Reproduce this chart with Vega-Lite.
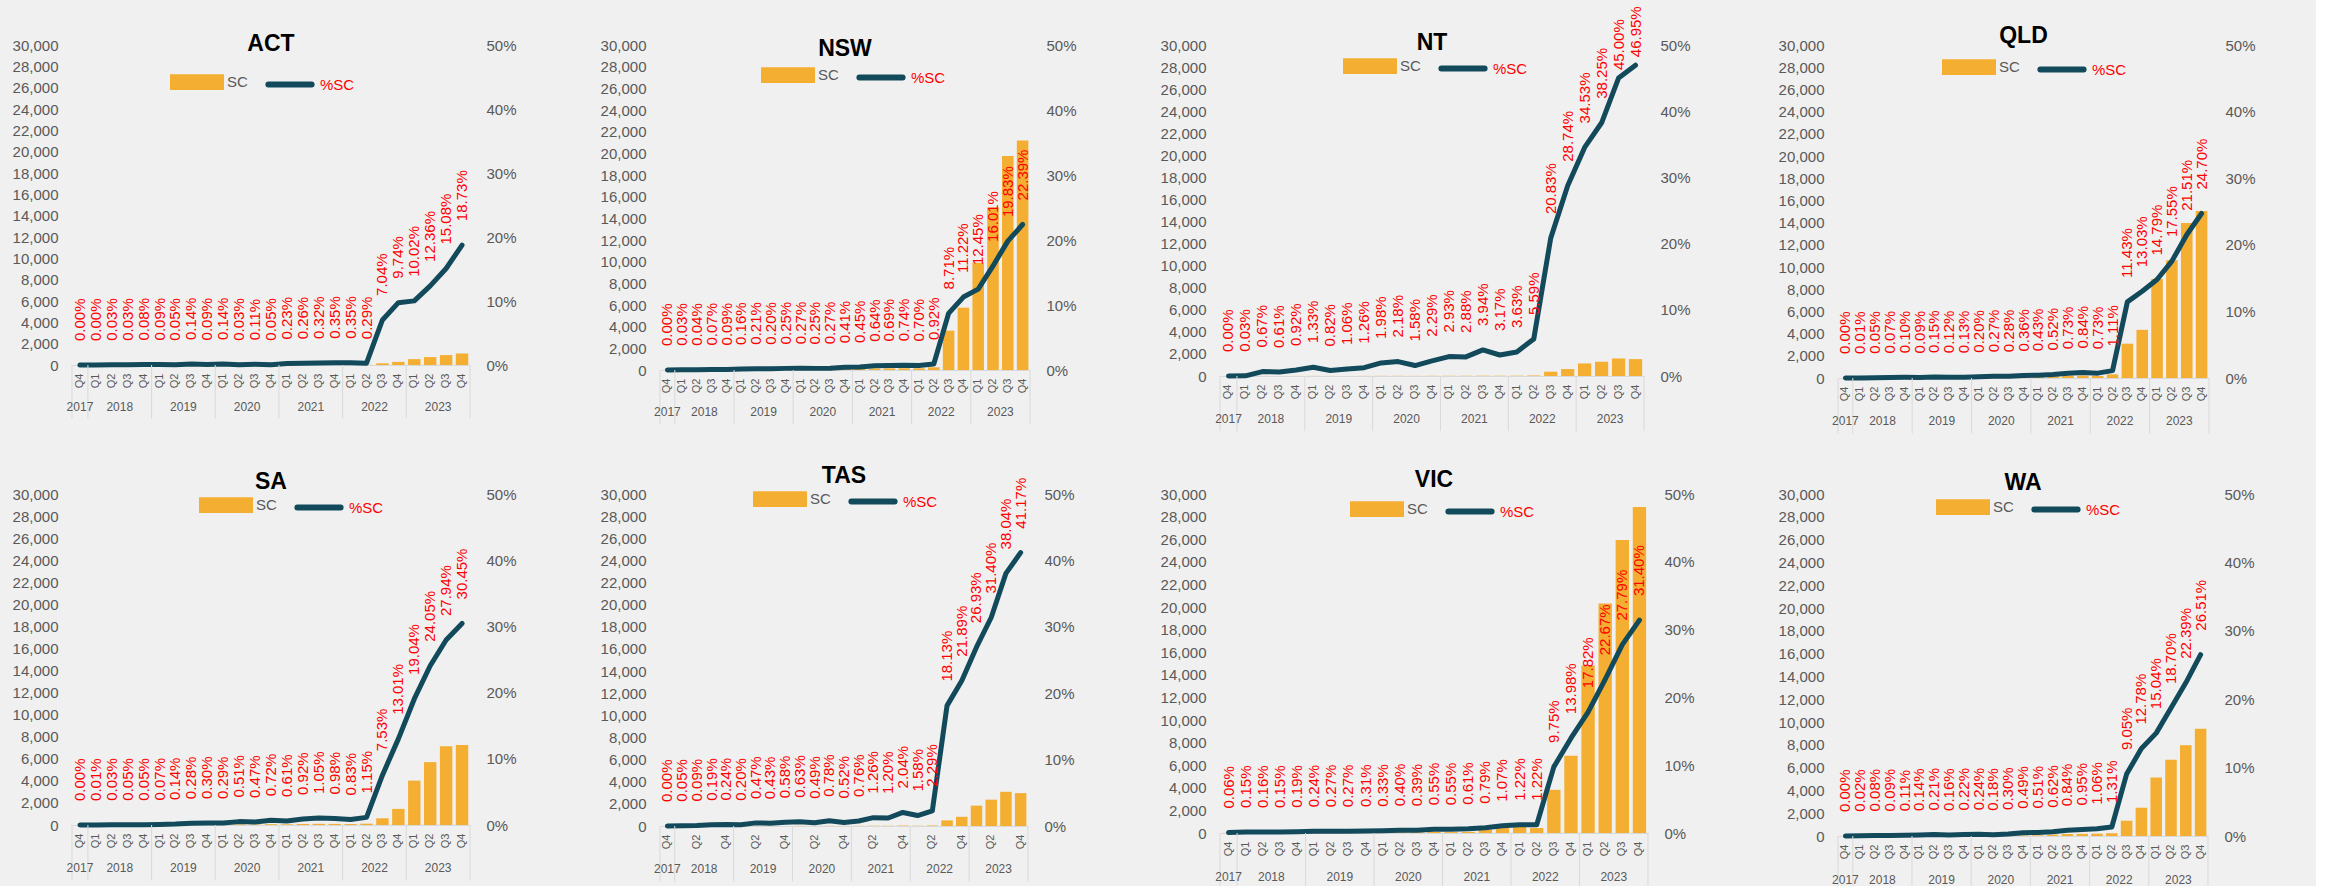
{
"$schema":"https://vega.github.io/schema/vega-lite/v6.json",
"background":"#F0F0F0",
"padding":{"left":12,"top":6,"right":60,"bottom":0},
"datasets":{
"yrs":[{"yr":"2017","st":"2017 Q4"},{"yr":"2018","st":"2018 Q1","mid":"2018 Q2"},{"yr":"2019","st":"2019 Q1","mid":"2019 Q2"},{"yr":"2020","st":"2020 Q1","mid":"2020 Q2"},{"yr":"2021","st":"2021 Q1","mid":"2021 Q2"},{"yr":"2022","st":"2022 Q1","mid":"2022 Q2"},{"yr":"2023","st":"2023 Q1","mid":"2023 Q2","en":"2023 Q4"}],
"d":[
{"s":"ACT","q":"2017 Q4","sc":0,"p":0},{"s":"ACT","q":"2018 Q1","sc":0,"p":0},{"s":"ACT","q":"2018 Q2","sc":2,"p":0.0003},{"s":"ACT","q":"2018 Q3","sc":2,"p":0.0003},{"s":"ACT","q":"2018 Q4","sc":4,"p":0.0008},{"s":"ACT","q":"2019 Q1","sc":5,"p":0.0009},{"s":"ACT","q":"2019 Q2","sc":3,"p":0.0005},{"s":"ACT","q":"2019 Q3","sc":7,"p":0.0014},{"s":"ACT","q":"2019 Q4","sc":5,"p":0.0009},{"s":"ACT","q":"2020 Q1","sc":7,"p":0.0014},{"s":"ACT","q":"2020 Q2","sc":2,"p":0.0003},{"s":"ACT","q":"2020 Q3","sc":6,"p":0.0011},{"s":"ACT","q":"2020 Q4","sc":3,"p":0.0005},{"s":"ACT","q":"2021 Q1","sc":12,"p":0.0023},{"s":"ACT","q":"2021 Q2","sc":14,"p":0.0026},{"s":"ACT","q":"2021 Q3","sc":17,"p":0.0032},{"s":"ACT","q":"2021 Q4","sc":19,"p":0.0035},{"s":"ACT","q":"2022 Q1","sc":19,"p":0.0035},{"s":"ACT","q":"2022 Q2","sc":16,"p":0.0029},{"s":"ACT","q":"2022 Q3","sc":160,"p":0.0704},{"s":"ACT","q":"2022 Q4","sc":290,"p":0.0974},{"s":"ACT","q":"2023 Q1","sc":550,"p":0.1002},{"s":"ACT","q":"2023 Q2","sc":740,"p":0.1236},{"s":"ACT","q":"2023 Q3","sc":930,"p":0.1508},{"s":"ACT","q":"2023 Q4","sc":1080,"p":0.1873},
{"s":"NSW","q":"2017 Q4","sc":0,"p":0},{"s":"NSW","q":"2018 Q1","sc":5,"p":0.0003},{"s":"NSW","q":"2018 Q2","sc":8,"p":0.0004},{"s":"NSW","q":"2018 Q3","sc":15,"p":0.0007},{"s":"NSW","q":"2018 Q4","sc":20,"p":0.0009},{"s":"NSW","q":"2019 Q1","sc":35,"p":0.0016},{"s":"NSW","q":"2019 Q2","sc":45,"p":0.0021},{"s":"NSW","q":"2019 Q3","sc":45,"p":0.002},{"s":"NSW","q":"2019 Q4","sc":55,"p":0.0025},{"s":"NSW","q":"2020 Q1","sc":60,"p":0.0027},{"s":"NSW","q":"2020 Q2","sc":55,"p":0.0025},{"s":"NSW","q":"2020 Q3","sc":60,"p":0.0027},{"s":"NSW","q":"2020 Q4","sc":90,"p":0.0041},{"s":"NSW","q":"2021 Q1","sc":100,"p":0.0045},{"s":"NSW","q":"2021 Q2","sc":140,"p":0.0064},{"s":"NSW","q":"2021 Q3","sc":150,"p":0.0069},{"s":"NSW","q":"2021 Q4","sc":160,"p":0.0074},{"s":"NSW","q":"2022 Q1","sc":155,"p":0.007},{"s":"NSW","q":"2022 Q2","sc":250,"p":0.0092},{"s":"NSW","q":"2022 Q3","sc":3630,"p":0.0871},{"s":"NSW","q":"2022 Q4","sc":5750,"p":0.1122},{"s":"NSW","q":"2023 Q1","sc":9900,"p":0.1245},{"s":"NSW","q":"2023 Q2","sc":15000,"p":0.1601},{"s":"NSW","q":"2023 Q3","sc":19750,"p":0.1983},{"s":"NSW","q":"2023 Q4","sc":21180,"p":0.2239},
{"s":"NT","q":"2017 Q4","sc":0,"p":0},{"s":"NT","q":"2018 Q1","sc":0,"p":0.0003},{"s":"NT","q":"2018 Q2","sc":5,"p":0.0067},{"s":"NT","q":"2018 Q3","sc":5,"p":0.0061},{"s":"NT","q":"2018 Q4","sc":8,"p":0.0092},{"s":"NT","q":"2019 Q1","sc":10,"p":0.0133},{"s":"NT","q":"2019 Q2","sc":7,"p":0.0082},{"s":"NT","q":"2019 Q3","sc":9,"p":0.0106},{"s":"NT","q":"2019 Q4","sc":10,"p":0.0126},{"s":"NT","q":"2020 Q1","sc":15,"p":0.0198},{"s":"NT","q":"2020 Q2","sc":17,"p":0.0218},{"s":"NT","q":"2020 Q3","sc":12,"p":0.0158},{"s":"NT","q":"2020 Q4","sc":18,"p":0.0229},{"s":"NT","q":"2021 Q1","sc":22,"p":0.0293},{"s":"NT","q":"2021 Q2","sc":22,"p":0.0288},{"s":"NT","q":"2021 Q3","sc":30,"p":0.0394},{"s":"NT","q":"2021 Q4","sc":25,"p":0.0317},{"s":"NT","q":"2022 Q1","sc":28,"p":0.0363},{"s":"NT","q":"2022 Q2","sc":45,"p":0.0559},{"s":"NT","q":"2022 Q3","sc":390,"p":0.2083},{"s":"NT","q":"2022 Q4","sc":630,"p":0.2874},{"s":"NT","q":"2023 Q1","sc":1140,"p":0.3453},{"s":"NT","q":"2023 Q2","sc":1290,"p":0.3825},{"s":"NT","q":"2023 Q3","sc":1590,"p":0.45},{"s":"NT","q":"2023 Q4","sc":1530,"p":0.4695},
{"s":"QLD","q":"2017 Q4","sc":0,"p":0},{"s":"QLD","q":"2018 Q1","sc":2,"p":0.0001},{"s":"QLD","q":"2018 Q2","sc":8,"p":0.0005},{"s":"QLD","q":"2018 Q3","sc":12,"p":0.0007},{"s":"QLD","q":"2018 Q4","sc":18,"p":0.001},{"s":"QLD","q":"2019 Q1","sc":16,"p":0.0009},{"s":"QLD","q":"2019 Q2","sc":27,"p":0.0015},{"s":"QLD","q":"2019 Q3","sc":22,"p":0.0012},{"s":"QLD","q":"2019 Q4","sc":24,"p":0.0013},{"s":"QLD","q":"2020 Q1","sc":37,"p":0.002},{"s":"QLD","q":"2020 Q2","sc":50,"p":0.0027},{"s":"QLD","q":"2020 Q3","sc":52,"p":0.0028},{"s":"QLD","q":"2020 Q4","sc":68,"p":0.0036},{"s":"QLD","q":"2021 Q1","sc":100,"p":0.0043},{"s":"QLD","q":"2021 Q2","sc":130,"p":0.0052},{"s":"QLD","q":"2021 Q3","sc":200,"p":0.0073},{"s":"QLD","q":"2021 Q4","sc":220,"p":0.0084},{"s":"QLD","q":"2022 Q1","sc":190,"p":0.0073},{"s":"QLD","q":"2022 Q2","sc":330,"p":0.0111},{"s":"QLD","q":"2022 Q3","sc":3090,"p":0.1143},{"s":"QLD","q":"2022 Q4","sc":4340,"p":0.1303},{"s":"QLD","q":"2023 Q1","sc":8920,"p":0.1479},{"s":"QLD","q":"2023 Q2","sc":10610,"p":0.1755},{"s":"QLD","q":"2023 Q3","sc":13970,"p":0.2151},{"s":"QLD","q":"2023 Q4","sc":15040,"p":0.247},
{"s":"SA","q":"2017 Q4","sc":0,"p":0},{"s":"SA","q":"2018 Q1","sc":1,"p":0.0001},{"s":"SA","q":"2018 Q2","sc":3,"p":0.0003},{"s":"SA","q":"2018 Q3","sc":5,"p":0.0005},{"s":"SA","q":"2018 Q4","sc":5,"p":0.0005},{"s":"SA","q":"2019 Q1","sc":7,"p":0.0007},{"s":"SA","q":"2019 Q2","sc":14,"p":0.0014},{"s":"SA","q":"2019 Q3","sc":28,"p":0.0028},{"s":"SA","q":"2019 Q4","sc":30,"p":0.003},{"s":"SA","q":"2020 Q1","sc":30,"p":0.0029},{"s":"SA","q":"2020 Q2","sc":52,"p":0.0051},{"s":"SA","q":"2020 Q3","sc":48,"p":0.0047},{"s":"SA","q":"2020 Q4","sc":75,"p":0.0072},{"s":"SA","q":"2021 Q1","sc":62,"p":0.0061},{"s":"SA","q":"2021 Q2","sc":95,"p":0.0092},{"s":"SA","q":"2021 Q3","sc":108,"p":0.0105},{"s":"SA","q":"2021 Q4","sc":100,"p":0.0098},{"s":"SA","q":"2022 Q1","sc":85,"p":0.0083},{"s":"SA","q":"2022 Q2","sc":120,"p":0.0115},{"s":"SA","q":"2022 Q3","sc":610,"p":0.0753},{"s":"SA","q":"2022 Q4","sc":1460,"p":0.1301},{"s":"SA","q":"2023 Q1","sc":4020,"p":0.1904},{"s":"SA","q":"2023 Q2","sc":5700,"p":0.2405},{"s":"SA","q":"2023 Q3","sc":7130,"p":0.2794},{"s":"SA","q":"2023 Q4","sc":7250,"p":0.3045},
{"s":"TAS","q":"2017 Q4","sc":0,"p":0},{"s":"TAS","q":"2018 Q1","sc":1,"p":0.0005},{"s":"TAS","q":"2018 Q2","sc":2,"p":0.0009},{"s":"TAS","q":"2018 Q3","sc":4,"p":0.0019},{"s":"TAS","q":"2018 Q4","sc":5,"p":0.0024},{"s":"TAS","q":"2019 Q1","sc":4,"p":0.002},{"s":"TAS","q":"2019 Q2","sc":9,"p":0.0047},{"s":"TAS","q":"2019 Q3","sc":8,"p":0.0043},{"s":"TAS","q":"2019 Q4","sc":11,"p":0.0058},{"s":"TAS","q":"2020 Q1","sc":12,"p":0.0063},{"s":"TAS","q":"2020 Q2","sc":10,"p":0.0049},{"s":"TAS","q":"2020 Q3","sc":15,"p":0.0078},{"s":"TAS","q":"2020 Q4","sc":10,"p":0.0052},{"s":"TAS","q":"2021 Q1","sc":15,"p":0.0076},{"s":"TAS","q":"2021 Q2","sc":25,"p":0.0126},{"s":"TAS","q":"2021 Q3","sc":24,"p":0.012},{"s":"TAS","q":"2021 Q4","sc":40,"p":0.0204},{"s":"TAS","q":"2022 Q1","sc":31,"p":0.0158},{"s":"TAS","q":"2022 Q2","sc":45,"p":0.0229},{"s":"TAS","q":"2022 Q3","sc":505,"p":0.1813},{"s":"TAS","q":"2022 Q4","sc":830,"p":0.2189},{"s":"TAS","q":"2023 Q1","sc":1840,"p":0.2693},{"s":"TAS","q":"2023 Q2","sc":2380,"p":0.314},{"s":"TAS","q":"2023 Q3","sc":3090,"p":0.3804},{"s":"TAS","q":"2023 Q4","sc":2970,"p":0.4117},
{"s":"VIC","q":"2017 Q4","sc":10,"p":0.0006},{"s":"VIC","q":"2018 Q1","sc":25,"p":0.0015},{"s":"VIC","q":"2018 Q2","sc":27,"p":0.0016},{"s":"VIC","q":"2018 Q3","sc":25,"p":0.0015},{"s":"VIC","q":"2018 Q4","sc":32,"p":0.0019},{"s":"VIC","q":"2019 Q1","sc":40,"p":0.0024},{"s":"VIC","q":"2019 Q2","sc":45,"p":0.0027},{"s":"VIC","q":"2019 Q3","sc":45,"p":0.0027},{"s":"VIC","q":"2019 Q4","sc":52,"p":0.0031},{"s":"VIC","q":"2020 Q1","sc":55,"p":0.0033},{"s":"VIC","q":"2020 Q2","sc":67,"p":0.004},{"s":"VIC","q":"2020 Q3","sc":65,"p":0.0039},{"s":"VIC","q":"2020 Q4","sc":92,"p":0.0055},{"s":"VIC","q":"2021 Q1","sc":80,"p":0.0055},{"s":"VIC","q":"2021 Q2","sc":100,"p":0.0061},{"s":"VIC","q":"2021 Q3","sc":290,"p":0.0079},{"s":"VIC","q":"2021 Q4","sc":440,"p":0.0107},{"s":"VIC","q":"2022 Q1","sc":530,"p":0.0122},{"s":"VIC","q":"2022 Q2","sc":440,"p":0.0122},{"s":"VIC","q":"2022 Q3","sc":3820,"p":0.0975},{"s":"VIC","q":"2022 Q4","sc":6840,"p":0.1398},{"s":"VIC","q":"2023 Q1","sc":14820,"p":0.1782},{"s":"VIC","q":"2023 Q2","sc":20310,"p":0.2267},{"s":"VIC","q":"2023 Q3","sc":25920,"p":0.2779},{"s":"VIC","q":"2023 Q4","sc":28850,"p":0.314},
{"s":"WA","q":"2017 Q4","sc":0,"p":0},{"s":"WA","q":"2018 Q1","sc":2,"p":0.0002},{"s":"WA","q":"2018 Q2","sc":8,"p":0.0008},{"s":"WA","q":"2018 Q3","sc":9,"p":0.0009},{"s":"WA","q":"2018 Q4","sc":11,"p":0.0011},{"s":"WA","q":"2019 Q1","sc":14,"p":0.0014},{"s":"WA","q":"2019 Q2","sc":21,"p":0.0021},{"s":"WA","q":"2019 Q3","sc":16,"p":0.0016},{"s":"WA","q":"2019 Q4","sc":22,"p":0.0022},{"s":"WA","q":"2020 Q1","sc":24,"p":0.0024},{"s":"WA","q":"2020 Q2","sc":18,"p":0.0018},{"s":"WA","q":"2020 Q3","sc":30,"p":0.003},{"s":"WA","q":"2020 Q4","sc":49,"p":0.0049},{"s":"WA","q":"2021 Q1","sc":60,"p":0.0051},{"s":"WA","q":"2021 Q2","sc":120,"p":0.0062},{"s":"WA","q":"2021 Q3","sc":170,"p":0.0084},{"s":"WA","q":"2021 Q4","sc":190,"p":0.0095},{"s":"WA","q":"2022 Q1","sc":200,"p":0.0106},{"s":"WA","q":"2022 Q2","sc":240,"p":0.0131},{"s":"WA","q":"2022 Q3","sc":1340,"p":0.0905},{"s":"WA","q":"2022 Q4","sc":2480,"p":0.1278},{"s":"WA","q":"2023 Q1","sc":5130,"p":0.1504},{"s":"WA","q":"2023 Q2","sc":6690,"p":0.187},{"s":"WA","q":"2023 Q3","sc":7970,"p":0.2239},{"s":"WA","q":"2023 Q4","sc":9400,"p":0.2651}
]},
"columns":4,
"spacing":{"row":116,"column":190},
"bounds":"flush",
"resolve":{"scale":{"color":"independent"},"legend":{"color":"independent"}},
"concat":[
{"width":398,"height":320,"title":{"text":"ACT","offset":-18},
"layer":[
{"data":{"name":"d"},"transform":[{"filter":"datum.s === 'ACT'"}],"mark":{"type":"bar","width":{"band":0.78}},
"encoding":{"x":{"field":"q","type":"ordinal","scale":{"paddingInner":0,"paddingOuter":0},"axis":{"labelAngle":-90,"labelExpr":"substring(datum.label, 5)","labelPadding":8,"labelFontSize":11,"title":null}},
"y":{"field":"sc","type":"quantitative","scale":{"domain":[0,30000]},"axis":{"orient":"left","values":[0,2000,4000,6000,8000,10000,12000,14000,16000,18000,20000,22000,24000,26000,28000,30000],"format":",.0f","labelFontSize":15,"labelPadding":14,"title":null}},
"color":{"datum":"SC","type":"nominal","scale":{"domain":["SC","%SC"],"range":["#F4AE31","#124A5C"]},"legend":{"orient":"none","legendX":98,"legendY":10,"direction":"horizontal","title":null,"symbolSize":2304,"symbolStrokeWidth":6,"labelOffset":3,"columnPadding":8,"labelFontSize":15,"labelFont":"Liberation Sans","encode":{"symbols":{"update":{"shape":{"signal":"datum.value === 'SC' ? 'M-1,-0.2H1V0.2H-1Z' : 'M-0.9,0H0.9'"},"fill":{"signal":"datum.value === 'SC' ? '#F4AE31' : 'transparent'"},"stroke":{"signal":"datum.value === 'SC' ? 'transparent' : '#124A5C'"},"strokeCap":{"value":"round"},"opacity":{"value":1}}},"labels":{"update":{"fill":{"signal":"datum.value === '%SC' ? '#FF0000' : '#595959'"}}}}}}}},
{"layer":[
{"data":{"name":"d"},"transform":[{"filter":"datum.s === 'ACT'"}],"mark":{"type":"line","strokeWidth":5,"strokeCap":"round","strokeJoin":"round"},
"encoding":{"x":{"field":"q","type":"ordinal"},"y":{"field":"p","type":"quantitative","scale":{"domain":[0,0.5]},"axis":{"orient":"right","values":[0,0.05,0.1,0.15,0.2,0.25,0.3,0.35,0.4,0.45,0.5],"format":".0%","labelFontSize":15,"labelPadding":16,"title":null}},"color":{"datum":"%SC","type":"nominal"}}},
{"data":{"name":"d"},"transform":[{"filter":"datum.s === 'ACT'"}],"mark":{"type":"text","angle":270,"align":"left","baseline":"middle","dx":24,"fontSize":15,"color":"#FF0000"},
"encoding":{"x":{"field":"q","type":"ordinal"},"y":{"field":"p","type":"quantitative"},"text":{"field":"p","type":"quantitative","format":".2%"}}}
]},
{"layer":[
{"data":{"name":"yrs"},"mark":{"type":"rule","color":"#D9D9D9","strokeWidth":1},"encoding":{"x":{"field":"st","type":"ordinal","bandPosition":0,"axis":{"title":null}},"y":{"datum":0,"type":"quantitative","scale":{"domain":[0,30000]},"axis":null},"y2":{"datum":-5000}}},
{"data":{"name":"yrs"},"transform":[{"filter":"datum.en"}],"mark":{"type":"rule","color":"#D9D9D9","strokeWidth":1},"encoding":{"x":{"field":"en","type":"ordinal","bandPosition":1,"axis":{"title":null}},"y":{"datum":0,"type":"quantitative","axis":null},"y2":{"datum":-5000}}},
{"data":{"name":"yrs"},"transform":[{"filter":"datum.yr !== '2017'"}],"mark":{"type":"text","fontSize":12,"color":"#595959"},"encoding":{"x":{"field":"mid","type":"ordinal","bandPosition":1,"axis":{"title":null}},"y":{"datum":-3900,"type":"quantitative","axis":null},"text":{"field":"yr"}}},
{"data":{"name":"yrs"},"transform":[{"filter":"datum.yr === '2017'"}],"mark":{"type":"text","fontSize":12,"color":"#595959"},"encoding":{"x":{"field":"st","type":"ordinal","bandPosition":0.5,"axis":{"title":null}},"y":{"datum":-3900,"type":"quantitative","axis":null},"text":{"field":"yr"}}}
]}
],
"resolve":{"scale":{"y":"independent"}}},

{"width":370,"height":325,"title":{"text":"NSW","offset":-23},
"layer":[
{"data":{"name":"d"},"transform":[{"filter":"datum.s === 'NSW'"}],"mark":{"type":"bar","width":{"band":0.78}},
"encoding":{"x":{"field":"q","type":"ordinal","scale":{"paddingInner":0,"paddingOuter":0},"axis":{"labelAngle":-90,"labelExpr":"substring(datum.label, 5)","labelPadding":8,"labelFontSize":11,"title":null}},
"y":{"field":"sc","type":"quantitative","scale":{"domain":[0,30000]},"axis":{"orient":"left","values":[0,2000,4000,6000,8000,10000,12000,14000,16000,18000,20000,22000,24000,26000,28000,30000],"format":",.0f","labelFontSize":15,"labelPadding":14,"title":null}},
"color":{"datum":"SC","type":"nominal","scale":{"domain":["SC","%SC"],"range":["#F4AE31","#124A5C"]},"legend":{"orient":"none","legendX":101,"legendY":3,"direction":"horizontal","title":null,"symbolSize":2304,"symbolStrokeWidth":6,"labelOffset":3,"columnPadding":8,"labelFontSize":15,"labelFont":"Liberation Sans","encode":{"symbols":{"update":{"shape":{"signal":"datum.value === 'SC' ? 'M-1,-0.2H1V0.2H-1Z' : 'M-0.9,0H0.9'"},"fill":{"signal":"datum.value === 'SC' ? '#F4AE31' : 'transparent'"},"stroke":{"signal":"datum.value === 'SC' ? 'transparent' : '#124A5C'"},"strokeCap":{"value":"round"},"opacity":{"value":1}}},"labels":{"update":{"fill":{"signal":"datum.value === '%SC' ? '#FF0000' : '#595959'"}}}}}}}},
{"layer":[
{"data":{"name":"d"},"transform":[{"filter":"datum.s === 'NSW'"}],"mark":{"type":"line","strokeWidth":5,"strokeCap":"round","strokeJoin":"round"},
"encoding":{"x":{"field":"q","type":"ordinal"},"y":{"field":"p","type":"quantitative","scale":{"domain":[0,0.5]},"axis":{"orient":"right","values":[0,0.05,0.1,0.15,0.2,0.25,0.3,0.35,0.4,0.45,0.5],"format":".0%","labelFontSize":15,"labelPadding":16,"title":null}},"color":{"datum":"%SC","type":"nominal"}}},
{"data":{"name":"d"},"transform":[{"filter":"datum.s === 'NSW'"}],"mark":{"type":"text","angle":270,"align":"left","baseline":"middle","dx":24,"fontSize":15,"color":"#FF0000"},
"encoding":{"x":{"field":"q","type":"ordinal"},"y":{"field":"p","type":"quantitative"},"text":{"field":"p","type":"quantitative","format":".2%"}}}
]},
{"layer":[
{"data":{"name":"yrs"},"mark":{"type":"rule","color":"#D9D9D9","strokeWidth":1},"encoding":{"x":{"field":"st","type":"ordinal","bandPosition":0,"axis":{"title":null}},"y":{"datum":0,"type":"quantitative","scale":{"domain":[0,30000]},"axis":null},"y2":{"datum":-5000}}},
{"data":{"name":"yrs"},"transform":[{"filter":"datum.en"}],"mark":{"type":"rule","color":"#D9D9D9","strokeWidth":1},"encoding":{"x":{"field":"en","type":"ordinal","bandPosition":1,"axis":{"title":null}},"y":{"datum":0,"type":"quantitative","axis":null},"y2":{"datum":-5000}}},
{"data":{"name":"yrs"},"transform":[{"filter":"datum.yr !== '2017'"}],"mark":{"type":"text","fontSize":12,"color":"#595959"},"encoding":{"x":{"field":"mid","type":"ordinal","bandPosition":1,"axis":{"title":null}},"y":{"datum":-3900,"type":"quantitative","axis":null},"text":{"field":"yr"}}},
{"data":{"name":"yrs"},"transform":[{"filter":"datum.yr === '2017'"}],"mark":{"type":"text","fontSize":12,"color":"#595959"},"encoding":{"x":{"field":"st","type":"ordinal","bandPosition":0.5,"axis":{"title":null}},"y":{"datum":-3900,"type":"quantitative","axis":null},"text":{"field":"yr"}}}
]}
],
"resolve":{"scale":{"y":"independent"}}},

{"width":424,"height":331,"title":{"text":"NT","offset":-43,"dy":6},
"layer":[
{"data":{"name":"d"},"transform":[{"filter":"datum.s === 'NT'"}],"mark":{"type":"bar","width":{"band":0.78}},
"encoding":{"x":{"field":"q","type":"ordinal","scale":{"paddingInner":0,"paddingOuter":0},"axis":{"labelAngle":-90,"labelExpr":"substring(datum.label, 5)","labelPadding":8,"labelFontSize":11,"title":null}},
"y":{"field":"sc","type":"quantitative","scale":{"domain":[0,30000]},"axis":{"orient":"left","values":[0,2000,4000,6000,8000,10000,12000,14000,16000,18000,20000,22000,24000,26000,28000,30000],"format":",.0f","labelFontSize":15,"labelPadding":14,"title":null}},
"color":{"datum":"SC","type":"nominal","scale":{"domain":["SC","%SC"],"range":["#F4AE31","#124A5C"]},"legend":{"orient":"none","legendX":123,"legendY":-6,"direction":"horizontal","title":null,"symbolSize":2304,"symbolStrokeWidth":6,"labelOffset":3,"columnPadding":8,"labelFontSize":15,"labelFont":"Liberation Sans","encode":{"symbols":{"update":{"shape":{"signal":"datum.value === 'SC' ? 'M-1,-0.2H1V0.2H-1Z' : 'M-0.9,0H0.9'"},"fill":{"signal":"datum.value === 'SC' ? '#F4AE31' : 'transparent'"},"stroke":{"signal":"datum.value === 'SC' ? 'transparent' : '#124A5C'"},"strokeCap":{"value":"round"},"opacity":{"value":1}}},"labels":{"update":{"fill":{"signal":"datum.value === '%SC' ? '#FF0000' : '#595959'"}}}}}}}},
{"layer":[
{"data":{"name":"d"},"transform":[{"filter":"datum.s === 'NT'"}],"mark":{"type":"line","strokeWidth":5,"strokeCap":"round","strokeJoin":"round"},
"encoding":{"x":{"field":"q","type":"ordinal"},"y":{"field":"p","type":"quantitative","scale":{"domain":[0,0.5]},"axis":{"orient":"right","values":[0,0.05,0.1,0.15,0.2,0.25,0.3,0.35,0.4,0.45,0.5],"format":".0%","labelFontSize":15,"labelPadding":16,"title":null}},"color":{"datum":"%SC","type":"nominal"}}},
{"data":{"name":"d"},"transform":[{"filter":"datum.s === 'NT' && datum.p <= 0.44"}],"mark":{"type":"text","angle":270,"align":"left","baseline":"middle","dx":24,"fontSize":15,"color":"#FF0000"},
"encoding":{"x":{"field":"q","type":"ordinal"},"y":{"field":"p","type":"quantitative"},"text":{"field":"p","type":"quantitative","format":".2%"}}},
{"data":{"name":"d"},"transform":[{"filter":"datum.s === 'NT' && datum.p > 0.44"}],"mark":{"type":"text","angle":270,"align":"left","baseline":"middle","dx":8,"fontSize":15,"color":"#FF0000"},
"encoding":{"x":{"field":"q","type":"ordinal"},"y":{"field":"p","type":"quantitative"},"text":{"field":"p","type":"quantitative","format":".2%"}}}
]},
{"layer":[
{"data":{"name":"yrs"},"mark":{"type":"rule","color":"#D9D9D9","strokeWidth":1},"encoding":{"x":{"field":"st","type":"ordinal","bandPosition":0,"axis":{"title":null}},"y":{"datum":0,"type":"quantitative","scale":{"domain":[0,30000]},"axis":null},"y2":{"datum":-5000}}},
{"data":{"name":"yrs"},"transform":[{"filter":"datum.en"}],"mark":{"type":"rule","color":"#D9D9D9","strokeWidth":1},"encoding":{"x":{"field":"en","type":"ordinal","bandPosition":1,"axis":{"title":null}},"y":{"datum":0,"type":"quantitative","axis":null},"y2":{"datum":-5000}}},
{"data":{"name":"yrs"},"transform":[{"filter":"datum.yr !== '2017'"}],"mark":{"type":"text","fontSize":12,"color":"#595959"},"encoding":{"x":{"field":"mid","type":"ordinal","bandPosition":1,"axis":{"title":null}},"y":{"datum":-3900,"type":"quantitative","axis":null},"text":{"field":"yr"}}},
{"data":{"name":"yrs"},"transform":[{"filter":"datum.yr === '2017'"}],"mark":{"type":"text","fontSize":12,"color":"#595959"},"encoding":{"x":{"field":"st","type":"ordinal","bandPosition":0.5,"axis":{"title":null}},"y":{"datum":-3900,"type":"quantitative","axis":null},"text":{"field":"yr"}}}
]}
],
"resolve":{"scale":{"y":"independent"}}},

{"width":371,"height":333,"title":{"text":"QLD","offset":-10},
"layer":[
{"data":{"name":"d"},"transform":[{"filter":"datum.s === 'QLD'"}],"mark":{"type":"bar","width":{"band":0.78}},
"encoding":{"x":{"field":"q","type":"ordinal","scale":{"paddingInner":0,"paddingOuter":0},"axis":{"labelAngle":-90,"labelExpr":"substring(datum.label, 5)","labelPadding":8,"labelFontSize":11,"title":null}},
"y":{"field":"sc","type":"quantitative","scale":{"domain":[0,30000]},"axis":{"orient":"left","values":[0,2000,4000,6000,8000,10000,12000,14000,16000,18000,20000,22000,24000,26000,28000,30000],"format":",.0f","labelFontSize":15,"labelPadding":14,"title":null}},
"color":{"datum":"SC","type":"nominal","scale":{"domain":["SC","%SC"],"range":["#F4AE31","#124A5C"]},"legend":{"orient":"none","legendX":104,"legendY":-5,"direction":"horizontal","title":null,"symbolSize":2304,"symbolStrokeWidth":6,"labelOffset":3,"columnPadding":8,"labelFontSize":15,"labelFont":"Liberation Sans","encode":{"symbols":{"update":{"shape":{"signal":"datum.value === 'SC' ? 'M-1,-0.2H1V0.2H-1Z' : 'M-0.9,0H0.9'"},"fill":{"signal":"datum.value === 'SC' ? '#F4AE31' : 'transparent'"},"stroke":{"signal":"datum.value === 'SC' ? 'transparent' : '#124A5C'"},"strokeCap":{"value":"round"},"opacity":{"value":1}}},"labels":{"update":{"fill":{"signal":"datum.value === '%SC' ? '#FF0000' : '#595959'"}}}}}}}},
{"layer":[
{"data":{"name":"d"},"transform":[{"filter":"datum.s === 'QLD'"}],"mark":{"type":"line","strokeWidth":5,"strokeCap":"round","strokeJoin":"round"},
"encoding":{"x":{"field":"q","type":"ordinal"},"y":{"field":"p","type":"quantitative","scale":{"domain":[0,0.5]},"axis":{"orient":"right","values":[0,0.05,0.1,0.15,0.2,0.25,0.3,0.35,0.4,0.45,0.5],"format":".0%","labelFontSize":15,"labelPadding":16,"title":null}},"color":{"datum":"%SC","type":"nominal"}}},
{"data":{"name":"d"},"transform":[{"filter":"datum.s === 'QLD'"}],"mark":{"type":"text","angle":270,"align":"left","baseline":"middle","dx":24,"fontSize":15,"color":"#FF0000"},
"encoding":{"x":{"field":"q","type":"ordinal"},"y":{"field":"p","type":"quantitative"},"text":{"field":"p","type":"quantitative","format":".2%"}}}
]},
{"layer":[
{"data":{"name":"yrs"},"mark":{"type":"rule","color":"#D9D9D9","strokeWidth":1},"encoding":{"x":{"field":"st","type":"ordinal","bandPosition":0,"axis":{"title":null}},"y":{"datum":0,"type":"quantitative","scale":{"domain":[0,30000]},"axis":null},"y2":{"datum":-5000}}},
{"data":{"name":"yrs"},"transform":[{"filter":"datum.en"}],"mark":{"type":"rule","color":"#D9D9D9","strokeWidth":1},"encoding":{"x":{"field":"en","type":"ordinal","bandPosition":1,"axis":{"title":null}},"y":{"datum":0,"type":"quantitative","axis":null},"y2":{"datum":-5000}}},
{"data":{"name":"yrs"},"transform":[{"filter":"datum.yr !== '2017'"}],"mark":{"type":"text","fontSize":12,"color":"#595959"},"encoding":{"x":{"field":"mid","type":"ordinal","bandPosition":1,"axis":{"title":null}},"y":{"datum":-3900,"type":"quantitative","axis":null},"text":{"field":"yr"}}},
{"data":{"name":"yrs"},"transform":[{"filter":"datum.yr === '2017'"}],"mark":{"type":"text","fontSize":12,"color":"#595959"},"encoding":{"x":{"field":"st","type":"ordinal","bandPosition":0.5,"axis":{"title":null}},"y":{"datum":-3900,"type":"quantitative","axis":null},"text":{"field":"yr"}}}
]}
],
"resolve":{"scale":{"y":"independent"}}},

{"width":398,"height":331,"title":{"text":"SA","offset":-16},
"layer":[
{"data":{"name":"d"},"transform":[{"filter":"datum.s === 'SA'"}],"mark":{"type":"bar","width":{"band":0.78}},
"encoding":{"x":{"field":"q","type":"ordinal","scale":{"paddingInner":0,"paddingOuter":0},"axis":{"labelAngle":-90,"labelExpr":"substring(datum.label, 5)","labelPadding":8,"labelFontSize":11,"title":null}},
"y":{"field":"sc","type":"quantitative","scale":{"domain":[0,30000]},"axis":{"orient":"left","values":[0,2000,4000,6000,8000,10000,12000,14000,16000,18000,20000,22000,24000,26000,28000,30000],"format":",.0f","labelFontSize":15,"labelPadding":14,"title":null}},
"color":{"datum":"SC","type":"nominal","scale":{"domain":["SC","%SC"],"range":["#F4AE31","#124A5C"]},"legend":{"orient":"none","legendX":127,"legendY":-16,"direction":"horizontal","title":null,"symbolSize":2304,"symbolStrokeWidth":6,"labelOffset":3,"columnPadding":8,"labelFontSize":15,"labelFont":"Liberation Sans","encode":{"symbols":{"update":{"shape":{"signal":"datum.value === 'SC' ? 'M-1,-0.2H1V0.2H-1Z' : 'M-0.9,0H0.9'"},"fill":{"signal":"datum.value === 'SC' ? '#F4AE31' : 'transparent'"},"stroke":{"signal":"datum.value === 'SC' ? 'transparent' : '#124A5C'"},"strokeCap":{"value":"round"},"opacity":{"value":1}}},"labels":{"update":{"fill":{"signal":"datum.value === '%SC' ? '#FF0000' : '#595959'"}}}}}}}},
{"layer":[
{"data":{"name":"d"},"transform":[{"filter":"datum.s === 'SA'"}],"mark":{"type":"line","strokeWidth":5,"strokeCap":"round","strokeJoin":"round"},
"encoding":{"x":{"field":"q","type":"ordinal"},"y":{"field":"p","type":"quantitative","scale":{"domain":[0,0.5]},"axis":{"orient":"right","values":[0,0.05,0.1,0.15,0.2,0.25,0.3,0.35,0.4,0.45,0.5],"format":".0%","labelFontSize":15,"labelPadding":16,"title":null}},"color":{"datum":"%SC","type":"nominal"}}},
{"data":{"name":"d"},"transform":[{"filter":"datum.s === 'SA'"}],"mark":{"type":"text","angle":270,"align":"left","baseline":"middle","dx":24,"fontSize":15,"color":"#FF0000"},
"encoding":{"x":{"field":"q","type":"ordinal"},"y":{"field":"p","type":"quantitative"},"text":{"field":"p","type":"quantitative","format":".2%"}}}
]},
{"layer":[
{"data":{"name":"yrs"},"mark":{"type":"rule","color":"#D9D9D9","strokeWidth":1},"encoding":{"x":{"field":"st","type":"ordinal","bandPosition":0,"axis":{"title":null}},"y":{"datum":0,"type":"quantitative","scale":{"domain":[0,30000]},"axis":null},"y2":{"datum":-5000}}},
{"data":{"name":"yrs"},"transform":[{"filter":"datum.en"}],"mark":{"type":"rule","color":"#D9D9D9","strokeWidth":1},"encoding":{"x":{"field":"en","type":"ordinal","bandPosition":1,"axis":{"title":null}},"y":{"datum":0,"type":"quantitative","axis":null},"y2":{"datum":-5000}}},
{"data":{"name":"yrs"},"transform":[{"filter":"datum.yr !== '2017'"}],"mark":{"type":"text","fontSize":12,"color":"#595959"},"encoding":{"x":{"field":"mid","type":"ordinal","bandPosition":1,"axis":{"title":null}},"y":{"datum":-3900,"type":"quantitative","axis":null},"text":{"field":"yr"}}},
{"data":{"name":"yrs"},"transform":[{"filter":"datum.yr === '2017'"}],"mark":{"type":"text","fontSize":12,"color":"#595959"},"encoding":{"x":{"field":"st","type":"ordinal","bandPosition":0.5,"axis":{"title":null}},"y":{"datum":-3900,"type":"quantitative","axis":null},"text":{"field":"yr"}}}
]}
],
"resolve":{"scale":{"y":"independent"}}},

{"width":368,"height":332,"title":{"text":"TAS","offset":-16},
"layer":[
{"data":{"name":"d"},"transform":[{"filter":"datum.s === 'TAS'"}],"mark":{"type":"bar","width":{"band":0.78}},
"encoding":{"x":{"field":"q","type":"ordinal","scale":{"paddingInner":0,"paddingOuter":0},"axis":{"labelAngle":-90,"labelExpr":"indexof(['Q1','Q3'], substring(datum.label, 5)) >= 0 ? '' : substring(datum.label, 5)","labelPadding":8,"labelFontSize":11,"title":null}},
"y":{"field":"sc","type":"quantitative","scale":{"domain":[0,30000]},"axis":{"orient":"left","values":[0,2000,4000,6000,8000,10000,12000,14000,16000,18000,20000,22000,24000,26000,28000,30000],"format":",.0f","labelFontSize":15,"labelPadding":14,"title":null}},
"color":{"datum":"SC","type":"nominal","scale":{"domain":["SC","%SC"],"range":["#F4AE31","#124A5C"]},"legend":{"orient":"none","legendX":93,"legendY":-22,"direction":"horizontal","title":null,"symbolSize":2304,"symbolStrokeWidth":6,"labelOffset":3,"columnPadding":8,"labelFontSize":15,"labelFont":"Liberation Sans","encode":{"symbols":{"update":{"shape":{"signal":"datum.value === 'SC' ? 'M-1,-0.2H1V0.2H-1Z' : 'M-0.9,0H0.9'"},"fill":{"signal":"datum.value === 'SC' ? '#F4AE31' : 'transparent'"},"stroke":{"signal":"datum.value === 'SC' ? 'transparent' : '#124A5C'"},"strokeCap":{"value":"round"},"opacity":{"value":1}}},"labels":{"update":{"fill":{"signal":"datum.value === '%SC' ? '#FF0000' : '#595959'"}}}}}}}},
{"layer":[
{"data":{"name":"d"},"transform":[{"filter":"datum.s === 'TAS'"}],"mark":{"type":"line","strokeWidth":5,"strokeCap":"round","strokeJoin":"round"},
"encoding":{"x":{"field":"q","type":"ordinal"},"y":{"field":"p","type":"quantitative","scale":{"domain":[0,0.5]},"axis":{"orient":"right","values":[0,0.05,0.1,0.15,0.2,0.25,0.3,0.35,0.4,0.45,0.5],"format":".0%","labelFontSize":15,"labelPadding":16,"title":null}},"color":{"datum":"%SC","type":"nominal"}}},
{"data":{"name":"d"},"transform":[{"filter":"datum.s === 'TAS'"}],"mark":{"type":"text","angle":270,"align":"left","baseline":"middle","dx":24,"fontSize":15,"color":"#FF0000"},
"encoding":{"x":{"field":"q","type":"ordinal"},"y":{"field":"p","type":"quantitative"},"text":{"field":"p","type":"quantitative","format":".2%"}}}
]},
{"layer":[
{"data":{"name":"yrs"},"mark":{"type":"rule","color":"#D9D9D9","strokeWidth":1},"encoding":{"x":{"field":"st","type":"ordinal","bandPosition":0,"axis":{"title":null}},"y":{"datum":0,"type":"quantitative","scale":{"domain":[0,30000]},"axis":null},"y2":{"datum":-5000}}},
{"data":{"name":"yrs"},"transform":[{"filter":"datum.en"}],"mark":{"type":"rule","color":"#D9D9D9","strokeWidth":1},"encoding":{"x":{"field":"en","type":"ordinal","bandPosition":1,"axis":{"title":null}},"y":{"datum":0,"type":"quantitative","axis":null},"y2":{"datum":-5000}}},
{"data":{"name":"yrs"},"transform":[{"filter":"datum.yr !== '2017'"}],"mark":{"type":"text","fontSize":12,"color":"#595959"},"encoding":{"x":{"field":"mid","type":"ordinal","bandPosition":1,"axis":{"title":null}},"y":{"datum":-3900,"type":"quantitative","axis":null},"text":{"field":"yr"}}},
{"data":{"name":"yrs"},"transform":[{"filter":"datum.yr === '2017'"}],"mark":{"type":"text","fontSize":12,"color":"#595959"},"encoding":{"x":{"field":"st","type":"ordinal","bandPosition":0.5,"axis":{"title":null}},"y":{"datum":-3900,"type":"quantitative","axis":null},"text":{"field":"yr"}}}
]}
],
"resolve":{"scale":{"y":"independent"}}},

{"width":428,"height":339,"title":{"text":"VIC","offset":-10},
"layer":[
{"data":{"name":"d"},"transform":[{"filter":"datum.s === 'VIC'"}],"mark":{"type":"bar","width":{"band":0.78}},
"encoding":{"x":{"field":"q","type":"ordinal","scale":{"paddingInner":0,"paddingOuter":0},"axis":{"labelAngle":-90,"labelExpr":"substring(datum.label, 5)","labelPadding":8,"labelFontSize":11,"title":null}},
"y":{"field":"sc","type":"quantitative","scale":{"domain":[0,30000]},"axis":{"orient":"left","values":[0,2000,4000,6000,8000,10000,12000,14000,16000,18000,20000,22000,24000,26000,28000,30000],"format":",.0f","labelFontSize":15,"labelPadding":14,"title":null}},
"color":{"datum":"SC","type":"nominal","scale":{"domain":["SC","%SC"],"range":["#F4AE31","#124A5C"]},"legend":{"orient":"none","legendX":130,"legendY":-12,"direction":"horizontal","title":null,"symbolSize":2304,"symbolStrokeWidth":6,"labelOffset":3,"columnPadding":8,"labelFontSize":15,"labelFont":"Liberation Sans","encode":{"symbols":{"update":{"shape":{"signal":"datum.value === 'SC' ? 'M-1,-0.2H1V0.2H-1Z' : 'M-0.9,0H0.9'"},"fill":{"signal":"datum.value === 'SC' ? '#F4AE31' : 'transparent'"},"stroke":{"signal":"datum.value === 'SC' ? 'transparent' : '#124A5C'"},"strokeCap":{"value":"round"},"opacity":{"value":1}}},"labels":{"update":{"fill":{"signal":"datum.value === '%SC' ? '#FF0000' : '#595959'"}}}}}}}},
{"layer":[
{"data":{"name":"d"},"transform":[{"filter":"datum.s === 'VIC'"}],"mark":{"type":"line","strokeWidth":5,"strokeCap":"round","strokeJoin":"round"},
"encoding":{"x":{"field":"q","type":"ordinal"},"y":{"field":"p","type":"quantitative","scale":{"domain":[0,0.5]},"axis":{"orient":"right","values":[0,0.05,0.1,0.15,0.2,0.25,0.3,0.35,0.4,0.45,0.5],"format":".0%","labelFontSize":15,"labelPadding":16,"title":null}},"color":{"datum":"%SC","type":"nominal"}}},
{"data":{"name":"d"},"transform":[{"filter":"datum.s === 'VIC'"}],"mark":{"type":"text","angle":270,"align":"left","baseline":"middle","dx":24,"fontSize":15,"color":"#FF0000"},
"encoding":{"x":{"field":"q","type":"ordinal"},"y":{"field":"p","type":"quantitative"},"text":{"field":"p","type":"quantitative","format":".2%"}}}
]},
{"layer":[
{"data":{"name":"yrs"},"mark":{"type":"rule","color":"#D9D9D9","strokeWidth":1},"encoding":{"x":{"field":"st","type":"ordinal","bandPosition":0,"axis":{"title":null}},"y":{"datum":0,"type":"quantitative","scale":{"domain":[0,30000]},"axis":null},"y2":{"datum":-5000}}},
{"data":{"name":"yrs"},"transform":[{"filter":"datum.en"}],"mark":{"type":"rule","color":"#D9D9D9","strokeWidth":1},"encoding":{"x":{"field":"en","type":"ordinal","bandPosition":1,"axis":{"title":null}},"y":{"datum":0,"type":"quantitative","axis":null},"y2":{"datum":-5000}}},
{"data":{"name":"yrs"},"transform":[{"filter":"datum.yr !== '2017'"}],"mark":{"type":"text","fontSize":12,"color":"#595959"},"encoding":{"x":{"field":"mid","type":"ordinal","bandPosition":1,"axis":{"title":null}},"y":{"datum":-3900,"type":"quantitative","axis":null},"text":{"field":"yr"}}},
{"data":{"name":"yrs"},"transform":[{"filter":"datum.yr === '2017'"}],"mark":{"type":"text","fontSize":12,"color":"#595959"},"encoding":{"x":{"field":"st","type":"ordinal","bandPosition":0.5,"axis":{"title":null}},"y":{"datum":-3900,"type":"quantitative","axis":null},"text":{"field":"yr"}}}
]}
],
"resolve":{"scale":{"y":"independent"}}},

{"width":370,"height":342,"title":{"text":"WA","offset":-15},
"layer":[
{"data":{"name":"d"},"transform":[{"filter":"datum.s === 'WA'"}],"mark":{"type":"bar","width":{"band":0.78}},
"encoding":{"x":{"field":"q","type":"ordinal","scale":{"paddingInner":0,"paddingOuter":0},"axis":{"labelAngle":-90,"labelExpr":"substring(datum.label, 5)","labelPadding":8,"labelFontSize":11,"title":null}},
"y":{"field":"sc","type":"quantitative","scale":{"domain":[0,30000]},"axis":{"orient":"left","values":[0,2000,4000,6000,8000,10000,12000,14000,16000,18000,20000,22000,24000,26000,28000,30000],"format":",.0f","labelFontSize":15,"labelPadding":14,"title":null}},
"color":{"datum":"SC","type":"nominal","scale":{"domain":["SC","%SC"],"range":["#F4AE31","#124A5C"]},"legend":{"orient":"none","legendX":98,"legendY":-14,"direction":"horizontal","title":null,"symbolSize":2304,"symbolStrokeWidth":6,"labelOffset":3,"columnPadding":8,"labelFontSize":15,"labelFont":"Liberation Sans","encode":{"symbols":{"update":{"shape":{"signal":"datum.value === 'SC' ? 'M-1,-0.2H1V0.2H-1Z' : 'M-0.9,0H0.9'"},"fill":{"signal":"datum.value === 'SC' ? '#F4AE31' : 'transparent'"},"stroke":{"signal":"datum.value === 'SC' ? 'transparent' : '#124A5C'"},"strokeCap":{"value":"round"},"opacity":{"value":1}}},"labels":{"update":{"fill":{"signal":"datum.value === '%SC' ? '#FF0000' : '#595959'"}}}}}}}},
{"layer":[
{"data":{"name":"d"},"transform":[{"filter":"datum.s === 'WA'"}],"mark":{"type":"line","strokeWidth":5,"strokeCap":"round","strokeJoin":"round"},
"encoding":{"x":{"field":"q","type":"ordinal"},"y":{"field":"p","type":"quantitative","scale":{"domain":[0,0.5]},"axis":{"orient":"right","values":[0,0.05,0.1,0.15,0.2,0.25,0.3,0.35,0.4,0.45,0.5],"format":".0%","labelFontSize":15,"labelPadding":16,"title":null}},"color":{"datum":"%SC","type":"nominal"}}},
{"data":{"name":"d"},"transform":[{"filter":"datum.s === 'WA'"}],"mark":{"type":"text","angle":270,"align":"left","baseline":"middle","dx":24,"fontSize":15,"color":"#FF0000"},
"encoding":{"x":{"field":"q","type":"ordinal"},"y":{"field":"p","type":"quantitative"},"text":{"field":"p","type":"quantitative","format":".2%"}}}
]},
{"layer":[
{"data":{"name":"yrs"},"mark":{"type":"rule","color":"#D9D9D9","strokeWidth":1},"encoding":{"x":{"field":"st","type":"ordinal","bandPosition":0,"axis":{"title":null}},"y":{"datum":0,"type":"quantitative","scale":{"domain":[0,30000]},"axis":null},"y2":{"datum":-5000}}},
{"data":{"name":"yrs"},"transform":[{"filter":"datum.en"}],"mark":{"type":"rule","color":"#D9D9D9","strokeWidth":1},"encoding":{"x":{"field":"en","type":"ordinal","bandPosition":1,"axis":{"title":null}},"y":{"datum":0,"type":"quantitative","axis":null},"y2":{"datum":-5000}}},
{"data":{"name":"yrs"},"transform":[{"filter":"datum.yr !== '2017'"}],"mark":{"type":"text","fontSize":12,"color":"#595959"},"encoding":{"x":{"field":"mid","type":"ordinal","bandPosition":1,"axis":{"title":null}},"y":{"datum":-3900,"type":"quantitative","axis":null},"text":{"field":"yr"}}},
{"data":{"name":"yrs"},"transform":[{"filter":"datum.yr === '2017'"}],"mark":{"type":"text","fontSize":12,"color":"#595959"},"encoding":{"x":{"field":"st","type":"ordinal","bandPosition":0.5,"axis":{"title":null}},"y":{"datum":-3900,"type":"quantitative","axis":null},"text":{"field":"yr"}}}
]}
],
"resolve":{"scale":{"y":"independent"}}}
],
"config":{
"view":{"stroke":null},
"font":"Liberation Sans",
"title":{"fontSize":23,"font":"Liberation Sans","fontWeight":"bold","color":"#000000","anchor":"middle","frame":"group"},
"axis":{"labelFont":"Liberation Sans","labelColor":"#595959","grid":false,"ticks":false,"domain":false},
"axisX":{"domain":true,"domainColor":"#D9D9D9","domainWidth":1},
"legend":{"labelFont":"Liberation Sans"}
}
}
